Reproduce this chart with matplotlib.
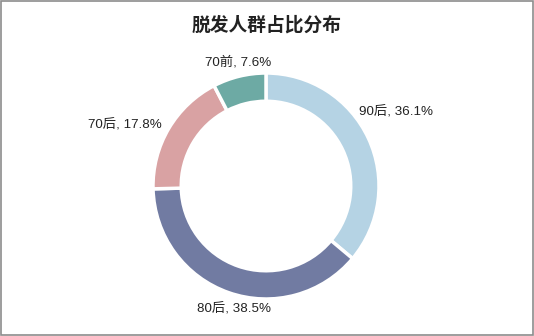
import numpy as np
import matplotlib
matplotlib.use("Agg")
import matplotlib.pyplot as plt
from matplotlib.patches import Rectangle

plt.rcParams['font.family'] = ['Liberation Sans', 'Noto Sans CJK SC', 'DejaVu Sans']

# 脱发人群年龄构成
groups = ['90后', '80后', '70后', '70前']
shares = [36.1, 38.5, 17.8, 7.6]
colors = ['#b5d3e4', '#717ba2', '#d9a2a3', '#6daaa4']

# 标签离圆心的距离（半径倍数）和角度微调（度）
label_dist = [1.33, 1.115, 1.365, 1.125]
label_shift = [5, 4.7, 7, -1]

fig = plt.figure(figsize=(5.34, 3.36), dpi=100)
ax = fig.add_axes([0, 0, 1, 1])

cx, cy, r = 266, 150, 113
wedges, _ = ax.pie(shares, colors=colors, startangle=90, counterclock=False,
                   center=(cx, cy), radius=r,
                   wedgeprops=dict(width=r * 0.25, edgecolor='white', linewidth=2.5))

for w, g, s, d, da in zip(wedges, groups, shares, label_dist, label_shift):
    ang = np.deg2rad((w.theta1 + w.theta2) / 2 + da)
    x = cx + r * d * np.cos(ang)
    y = cy + r * d * np.sin(ang)
    ax.text(x, y, f'{g}, {s}%', ha='center', va='center', fontsize=9.6, color='#222222')

ax.set_xlim(0, 534)
ax.set_ylim(0, 336)
ax.set_aspect('equal')
ax.axis('off')

fig.text(0.5, 0.925, '脱发人群占比分布', ha='center', va='center',
         fontsize=13.5, fontweight='bold', color='#222222',
         family=['Noto Sans CJK SC', 'DejaVu Sans'])

# 外框
fig.patches.append(Rectangle((0.001, 0.002), 0.997, 0.995, transform=fig.transFigure,
                             fill=False, edgecolor='#8c8c8c', linewidth=1.2))

fig.savefig('out.png', dpi=100)
